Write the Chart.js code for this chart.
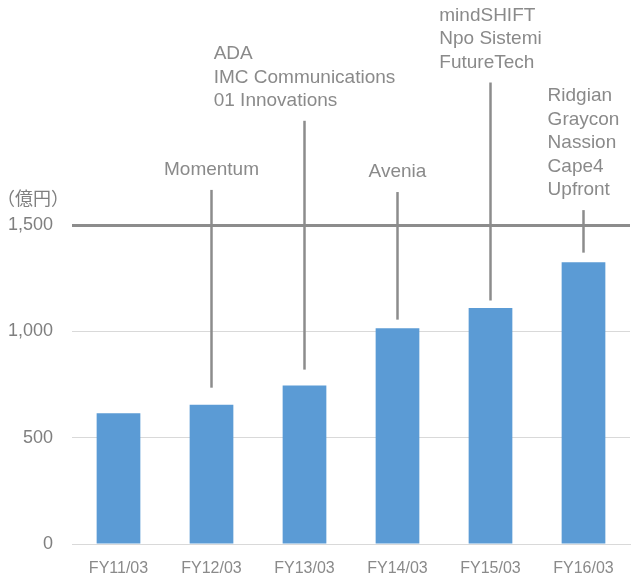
<!DOCTYPE html>
<html>
<head>
<meta charset="utf-8">
<script src="https://cdn.jsdelivr.net/npm/chart.js@4/dist/chart.umd.min.js"></script>
<style>
  html, body { margin: 0; padding: 0; background: #ffffff; }
  #wrap { width: 633px; height: 580px; }
</style>
</head>
<body>
<div id="wrap"><canvas id="c" width="633" height="580"></canvas></div>
<script>
// ---- data ----
const categories = ["FY11/03", "FY12/03", "FY13/03", "FY14/03", "FY15/03", "FY16/03"];
const revenue = [615, 655, 745, 1015, 1110, 1325];            // 億円
const acquisitions = [
  "",
  "Momentum",
  "ADA\nIMC Communications\n01 Innovations",
  "Avenia",
  "mindSHIFT\nNpo Sistemi\nFutureTech",
  "Ridgian\nGraycon\nNassion\nCape4\nUpfront"
];
const leaderTop = [null, 1665, 1990, 1655, 2170, 1570];      // y-axis values
const leaderBottom = [null, 735, 820, 1055, 1145, 1370];     // y-axis values
const yTicks = [0, 500, 1000, 1500];
const unitLabel = "（億円）";

// ---- styles ----
const LATIN = "'Liberation Sans', Arial, sans-serif";
const annotationPlugin = {
  id: 'acqAnnotations',
  afterDatasetsDraw(chart) {
    const { ctx, scales: { x, y } } = chart;
    ctx.save();
    ctx.strokeStyle = '#8c8c8c';
    ctx.lineWidth = 2.5;
    acquisitions.forEach((label, i) => {
      if (!label) return;
      const px = x.getPixelForValue(i);
      const yt = y.getPixelForValue(leaderTop[i]);
      const yb = y.getPixelForValue(leaderBottom[i]);
      ctx.beginPath();
      ctx.moveTo(px, yt);
      ctx.lineTo(px, yb);
      ctx.stroke();
      const lines = label.split('\n');
      ctx.font = '19px ' + LATIN;
      ctx.fillStyle = '#8a8a8a';
      ctx.textBaseline = 'middle';
      ctx.textAlign = 'left';
      const maxW = Math.max(...lines.map(l => ctx.measureText(l).width));
      const left = px - maxW / 2;
      const lh = 23.5;
      const lastY = yt - 20;
      lines.forEach((l, j) => {
        ctx.fillText(l, left, lastY - (lines.length - 1 - j) * lh);
      });
    });
    ctx.font = '18px "Noto Sans CJK JP", sans-serif';
    ctx.fillStyle = '#7f7f7f';
    ctx.textAlign = 'left';
    ctx.textBaseline = 'middle';
    ctx.fillText(unitLabel, -3, y.getPixelForValue(1500) - 27);
    ctx.restore();
  }
};

new Chart(document.getElementById('c'), {
  type: 'bar',
  data: {
    labels: categories,
    datasets: [{
      data: revenue,
      backgroundColor: '#5b9bd5',
      borderWidth: 0,
      barPercentage: 0.47,
      categoryPercentage: 1.0
    }]
  },
  options: {
    responsive: false,
    animation: false,
    locale: 'en-US',
    layout: { padding: { top: 225, left: 8, right: 3, bottom: 2 } },
    plugins: { legend: { display: false }, tooltip: { enabled: false } },
    scales: {
      x: {
        afterFit(scale) { scale.height = 34; },
        grid: { display: false, drawTicks: false },
        border: { display: true, color: '#d9d9d9', width: 1 },
        ticks: { color: '#8a8a8a', font: { family: LATIN, size: 16 }, padding: 15 }
      },
      y: {
        min: 0,
        max: 1500,
        afterFit(scale) { scale.width = 64; },
        afterBuildTicks(axis) { axis.ticks = yTicks.map(v => ({ value: v })); },
        border: { display: false },
        grid: {
          drawTicks: false,
          color: ctx => (ctx.tick && ctx.tick.value === 1500) ? '#8c8c8c' : '#d9d9d9',
          lineWidth: ctx => (ctx.tick && ctx.tick.value === 1500) ? 3 : 1
        },
        ticks: {
          color: '#7f7f7f',
          font: { family: LATIN, size: 18 },
          padding: 19,
          callback: v => v.toLocaleString('en-US')
        }
      }
    }
  },
  plugins: [annotationPlugin]
});
</script>
</body>
</html>
